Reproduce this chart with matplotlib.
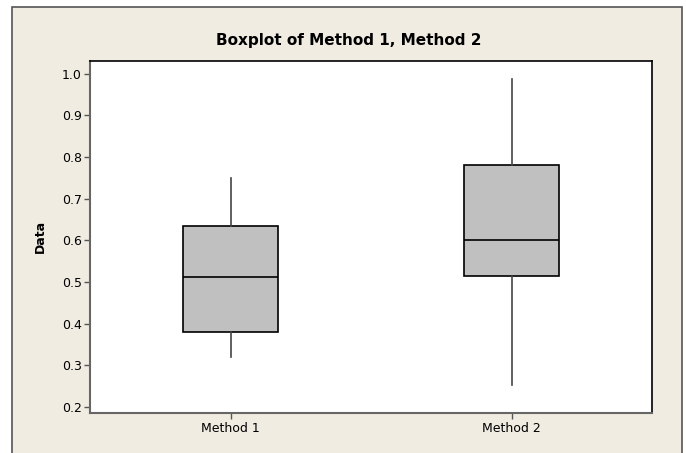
import matplotlib
matplotlib.use("Agg")
import matplotlib.pyplot as plt
from matplotlib.patches import Rectangle

# Five-number summaries for each method
methods = ["Method 1", "Method 2"]
whisker_low = [0.32, 0.252]
q1 = [0.379, 0.514]
median = [0.511, 0.600]
q3 = [0.635, 0.780]
whisker_high = [0.749, 0.987]

y_ticks = [0.2, 0.3, 0.4, 0.5, 0.6, 0.7, 0.8, 0.9, 1.0]

W, H = 686, 453
fig = plt.figure(figsize=(W / 100, H / 100), dpi=100)
fig.patch.set_facecolor("white")

# Beige panel with a dark frame behind the plot
panel = Rectangle((12 / W, -0.1), (682 - 12) / W, 1.1 - 7 / H,
                  transform=fig.transFigure, facecolor="#F0ECE2",
                  edgecolor="#555555", linewidth=1.2, zorder=0)
fig.add_artist(panel)

ax = fig.add_axes([90 / W, 1 - 412.7 / H, (652 - 90) / W, (412.7 - 61) / H])
ax.set_facecolor("white")
ax.set_zorder(1)

stats = []
for i, name in enumerate(methods):
    stats.append(dict(label=name, whislo=whisker_low[i], q1=q1[i], med=median[i],
                      q3=q3[i], whishi=whisker_high[i], fliers=[]))

ax.bxp(stats, positions=[1, 2], widths=0.337, patch_artist=True, showcaps=False,
       boxprops=dict(facecolor="#C0C0C0", edgecolor="black", linewidth=1.2),
       medianprops=dict(color="black", linewidth=1.2),
       whiskerprops=dict(color="#444444", linewidth=1.2))

ax.set_xlim(0.5, 2.5)
ax.set_ylim(0.1856, 1.031)
ax.set_yticks(y_ticks)
ax.set_yticklabels([f"{v:.1f}" for v in y_ticks])
ax.tick_params(axis="both", direction="out", length=4, width=1, colors="#555555",
               labelcolor="black", labelsize=9)
ax.tick_params(axis="y", pad=2)
ax.tick_params(axis="x", pad=3)

for side in ["left", "bottom"]:
    ax.spines[side].set_color("#666666")
    ax.spines[side].set_linewidth(1.5)
for side in ["top", "right"]:
    ax.spines[side].set_color("black")
    ax.spines[side].set_linewidth(1.2)

ax.set_ylabel("Data", fontweight="bold", fontsize=9, labelpad=11)
fig.text(349 / W, 1 - 40 / H, "Boxplot of Method 1, Method 2", ha="center", va="center",
         fontweight="bold", fontsize=11)

fig.savefig("out.png", dpi=100, facecolor=fig.get_facecolor())
